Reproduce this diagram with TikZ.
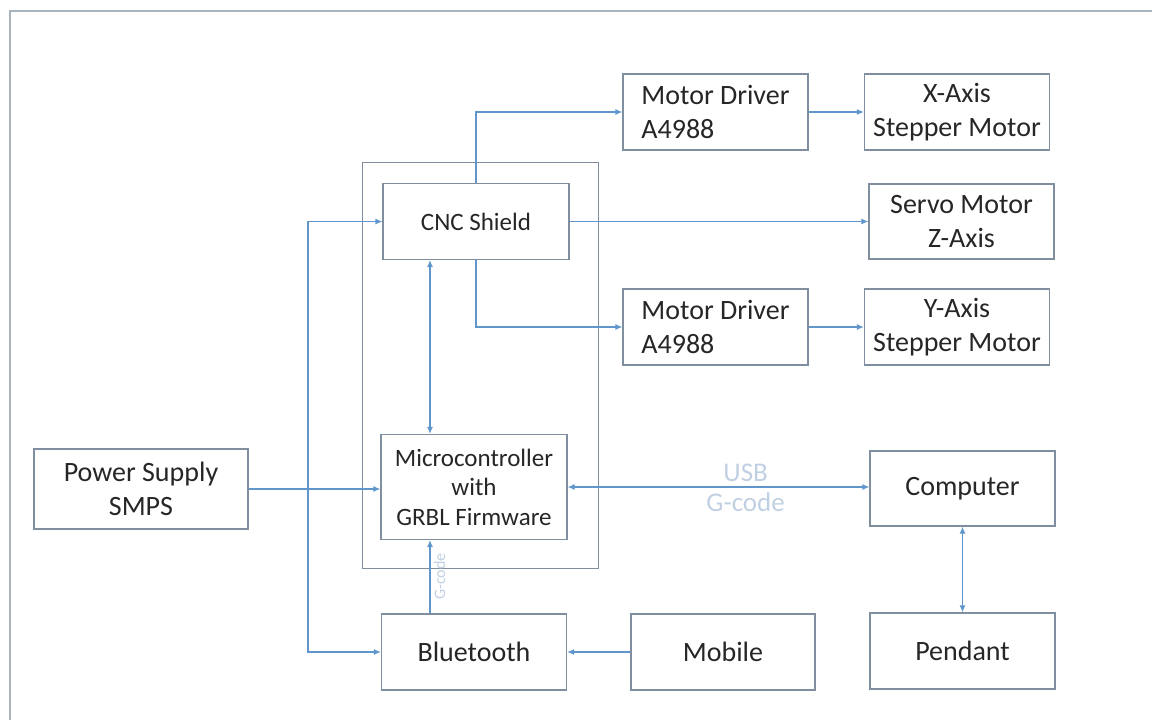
\documentclass[tikz,border=0pt]{standalone}
\usepackage{fontspec}
\setmainfont{Carlito}
\usetikzlibrary{fit, arrows.meta}

\definecolor{boxgray}{RGB}{128,143,160}
\definecolor{linkblue}{RGB}{96,150,204}
\definecolor{lblblue}{RGB}{192,208,226}
\definecolor{txtgray}{RGB}{38,38,38}
\definecolor{framegray}{RGB}{170,180,190}

\begin{document}
\begin{tikzpicture}[x=1pt, y=-1pt,
    blk/.style={draw=boxgray, line width=1.2pt, inner sep=0pt, align=center, text=txtgray,
                minimum width=185pt, minimum height=76pt, font=\fontsize{28}{34}\selectfont},
    small/.style={font=\fontsize{25}{29.5}\selectfont},
    drv/.style={blk, align=left},
    flow/.style={draw=linkblue, line width=1.2pt, -{Latex[length=7pt,width=6pt]}},
    bothway/.style={flow, {Latex[length=7pt,width=6pt]}-{Latex[length=7pt,width=6pt]}},
    lbl/.style={text=lblblue, font=\fontsize{27}{30}\selectfont}]
\useasboundingbox (0,0) rectangle (1152,720);
\draw[framegray, line width=1.5pt] (10,11) rectangle (1170,740);

% blocks
\node[blk, minimum width=214pt, minimum height=80pt] (ps) at (141,489) {Power Supply\\SMPS};
\node[blk, small, minimum width=186pt] (cnc) at (476,221.5) {CNC Shield};
\node[blk, small, minimum width=186pt, minimum height=105pt] (mc) at (474,487) {Microcontroller\\with\\GRBL Firmware};
\node[draw=boxgray, line width=1.2pt, fit=(cnc)(mc), inner xsep=23.5pt, inner ysep=24.5pt, xshift=5.5pt, yshift=-4pt] (core) {};
\node[drv] (md1) at (715.5,112) {Motor Driver\\A4988};
\node[drv] (md2) at (715.5,327) {Motor Driver\\A4988};
\node[blk] (xa) at (957,112) {X-Axis\\Stepper Motor};
\node[blk, minimum height=75pt] (servo) at (961.5,221.5) {Servo Motor\\Z-Axis};
\node[blk] (ya) at (957,327) {Y-Axis\\Stepper Motor};
\node[blk] (bt) at (474,652) {Bluetooth};
\node[blk, minimum width=184pt] (mob) at (723,652) {Mobile};
\node[blk, minimum height=75pt] (comp) at (962.5,488.5) {Computer};
\node[blk] (pend) at (962.5,651) {Pendant};

% links
\coordinate (bus) at (308,489);
\draw[flow] (ps.east) -- (ps.east -| mc.west);
\draw[flow] (bus) |- (cnc.west);
\draw[flow] (bus) |- (bt.west);
\draw[flow] (cnc.north) |- (md1.west);
\draw[flow] (cnc.east) -- (servo.west);
\draw[flow] (cnc.south) |- (md2.west);
\draw[flow] (md1) -- (xa);
\draw[flow] (md2) -- (ya);
\draw[bothway] ([xshift=-44pt]mc.north) -- ([xshift=-44pt]mc.north |- cnc.south);
\draw[flow] ([xshift=-44pt]bt.north) -- ([xshift=-44pt]mc.south)
    node[midway, rotate=90, anchor=north, text=lblblue, font=\fontsize{16}{18}\selectfont] {G-code};
\draw[bothway] (mc.east) -- (mc.east -| comp.west)
    node[lbl, pos=.59, yshift=14pt] {USB}
    node[lbl, pos=.59, yshift=-15pt] {G-code};
\draw[flow] (mob) -- (bt);
\draw[bothway] (comp) -- (pend);
\end{tikzpicture}
\end{document}
